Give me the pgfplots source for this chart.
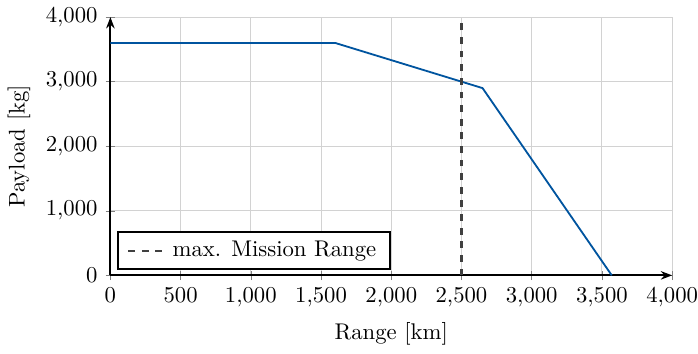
\documentclass[border=0pt]{standalone}
\usepackage{pgfplots}
\pgfplotsset{compat=1.18}
\usetikzlibrary{arrows.meta}
\definecolor{lineblue}{RGB}{0,84,159}
\begin{document}
\begin{tikzpicture}
\begin{axis}[
  scale only axis,
  width=8.7cm, height=4.0cm,
  xmin=0, xmax=4000, ymin=0, ymax=4000,
  axis lines=left,
  axis line style={thick,-{Stealth[length=5pt]}},
  grid=major,
  major grid style={gray!35},
  xtick={0,500,...,4000},
  ytick={0,1000,...,4000},
  xticklabel style={inner xsep=0pt},
  xlabel={Range [km]},
  ylabel={Payload [kg]},
  legend style={at={(0.012,0.02)},anchor=south west,draw=black,thick,inner xsep=4pt,inner ysep=2pt,font=\normalsize},
  legend cell align=left,
]
\addplot[lineblue,thick,forget plot] coordinates {(0,3600) (1600,3600) (2650,2900) (3570,0)};
\addplot[black!75,line width=1pt,dashed] coordinates {(2500,0) (2500,4000)};
\addlegendentry{max. Mission Range}
\end{axis}
\end{tikzpicture}
\end{document}
